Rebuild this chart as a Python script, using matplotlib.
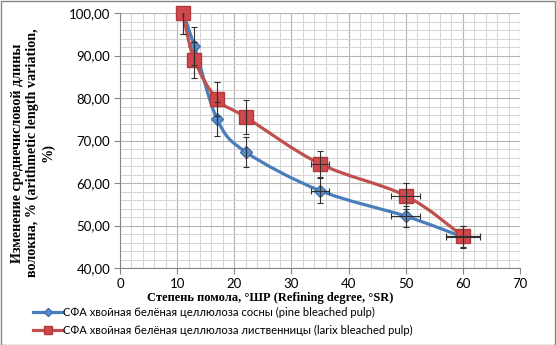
import matplotlib
matplotlib.use('Agg')
import numpy as np
import matplotlib.pyplot as plt
from matplotlib.path import Path
from matplotlib.patches import PathPatch, Rectangle
from matplotlib.lines import Line2D
from matplotlib.ticker import MultipleLocator, FuncFormatter

# --- data ---
refining = [11, 13, 17, 22, 35, 50, 60]
pine = [100.0, 92.3, 75.0, 67.3, 58.2, 52.2, 47.3]
larix = [100.0, 89.0, 79.7, 75.5, 64.5, 57.0, 47.5]
pine_yerr = [5.0, 4.5, 4.0, 3.5, 3.0, 2.5, 2.5]
larix_yerr = [5.0, 4.2, 4.0, 4.0, 3.0, 3.0, 2.5]
xerr = [0, 0, 0, 0, 1.5, 2.5, 3.0]

pine_label = u"СФА хвойная белёная целлюлоза сосны (pine bleached pulp)"
larix_label = u"СФА хвойная белёная целлюлоза лиственницы (larix bleached pulp)"

blue = '#4A7EBB'
red = '#C0504D'
serif = ['Liberation Serif', 'DejaVu Serif']
sans = ['Lato', 'Open Sans', 'DejaVu Sans']


def smooth_path(xs, ys, t=1.0 / 6):
    # Catmull-Rom style bezier through the points (spreadsheet "smoothed line")
    pts = np.column_stack([xs, ys]).astype(float)
    n = len(pts)
    verts = [pts[0]]
    codes = [Path.MOVETO]
    for i in range(n - 1):
        p0 = pts[i - 1] if i > 0 else pts[i]
        p1 = pts[i]
        p2 = pts[i + 1]
        p3 = pts[i + 2] if i + 2 < n else pts[i + 1]
        c1 = p1 + (p2 - p0) * t
        c2 = p2 - (p3 - p1) * t
        verts += [c1, c2, p2]
        codes += [Path.CURVE4] * 3
    return Path(verts, codes)


fig = plt.figure(figsize=(5.56, 3.45), dpi=100)
ax = fig.add_axes([120 / 556., 1 - 268 / 345., 400 / 556., 255 / 345.])

ax.set_xlim(0, 70)
ax.set_ylim(40, 100)
ax.xaxis.set_major_locator(MultipleLocator(10))
ax.xaxis.set_minor_locator(MultipleLocator(2))
ax.yaxis.set_major_locator(MultipleLocator(10))
ax.yaxis.set_minor_locator(MultipleLocator(2))
ax.yaxis.set_major_formatter(FuncFormatter(lambda v, p: ('%.2f' % v).replace('.', ',')))

ax.grid(True, which='major', color='#b4b4b4', linewidth=0.8)
ax.grid(True, which='minor', color='#d4d4d4', linewidth=0.7)
ax.set_axisbelow(True)
for s in ['top', 'right']:
    ax.spines[s].set_visible(False)
for s in ['left', 'bottom']:
    ax.spines[s].set_color('#868686')
    ax.spines[s].set_linewidth(0.8)
ax.tick_params(which='major', length=4, color='#868686', labelsize=9.5, pad=3)
ax.tick_params(which='minor', length=0)
for lab in ax.get_xticklabels() + ax.get_yticklabels():
    lab.set_family(sans)

ax.add_patch(PathPatch(smooth_path(refining, pine), fill=False, edgecolor=blue,
                       linewidth=2.3, zorder=3, clip_on=False))
ax.plot(refining, pine, linestyle='none', marker='D', markersize=6.5,
        markerfacecolor='#5B8FD0', markeredgecolor='#3C6FAE', zorder=4, clip_on=False)
ax.add_patch(PathPatch(smooth_path(refining, larix), fill=False, edgecolor=red,
                       linewidth=2.3, zorder=5, clip_on=False))
ax.plot(refining, larix, linestyle='none', marker='s', markersize=9.5,
        markerfacecolor='#D0474C', markeredgecolor='#B03B3E', zorder=6, clip_on=False)

ax.errorbar(refining, pine, yerr=pine_yerr, xerr=xerr, fmt='none', ecolor='#303030',
            elinewidth=0.8, capsize=2.5, capthick=0.8, zorder=7)
ax.errorbar(refining, larix, yerr=larix_yerr, xerr=xerr, fmt='none', ecolor='#303030',
            elinewidth=0.8, capsize=2.5, capthick=0.8, zorder=7)

fig.text(270 / 556., 1 - 298 / 345., u"Степень помола, °ШР (Refining degree, °SR)",
         ha='center', va='center', family=serif, fontsize=9, fontweight='bold')
fig.text(33 / 556., 1 - 153 / 345.,
         u"Изменение среднечисловой длины\nволокна, % (arithmetic length variation,\n%)",
         rotation=90, ha='center', va='center', multialignment='center',
         family=serif, fontsize=10.2, fontweight='bold', linespacing=1.15)

handles = [
    Line2D([], [], color=blue, linewidth=2.3, marker='D', markersize=4,
           markerfacecolor='#5B8FD0', markeredgecolor='#3C6FAE'),
    Line2D([], [], color=red, linewidth=2.3, marker='s', markersize=5.5,
           markerfacecolor='#D0474C', markeredgecolor='#B03B3E'),
]
leg = fig.legend(handles, [pine_label, larix_label], loc='upper left',
                 bbox_to_anchor=(33 / 556., 1 - 307 / 345.), frameon=False,
                 prop={'family': sans, 'size': 8.1}, handlelength=2.6,
                 handletextpad=0.1, labelspacing=0.65, borderaxespad=0,
                 borderpad=0)

fig.patches.append(Rectangle((0.5 / 556., 0.5 / 345.), 1 - 1.5 / 556., 1 - 1.5 / 345.,
                             transform=fig.transFigure, fill=False,
                             edgecolor='#868686', linewidth=1.0))

fig.savefig('out.png', dpi=100)
